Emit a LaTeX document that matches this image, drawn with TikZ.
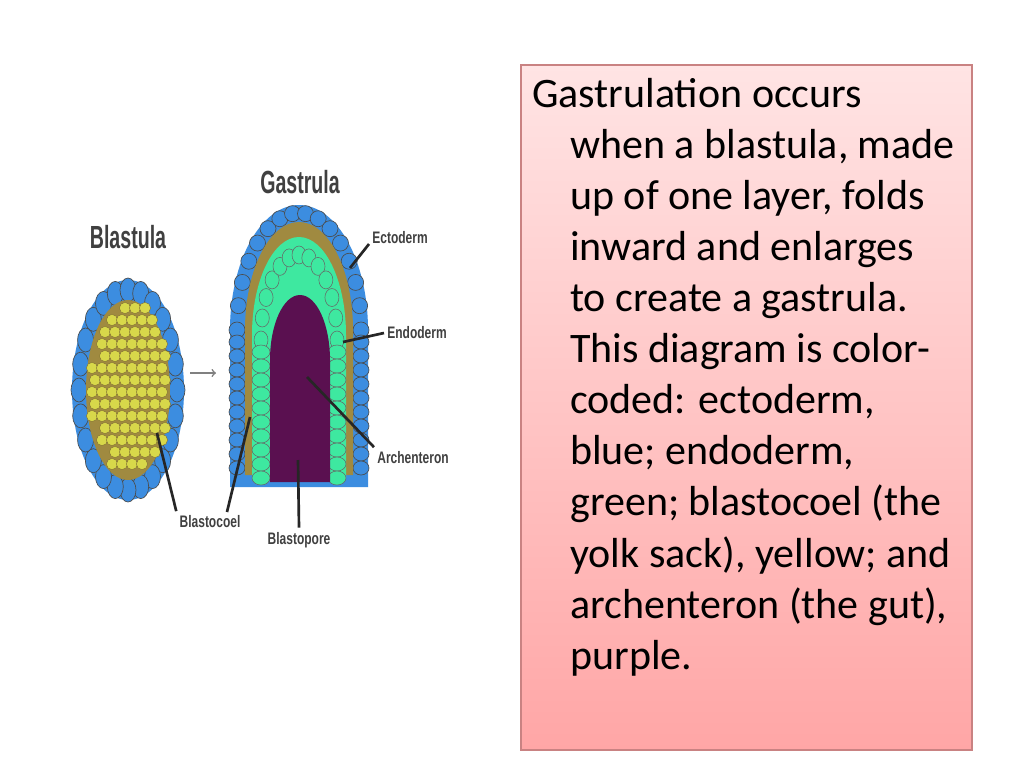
\documentclass[tikz,border=0pt]{standalone}
\usepackage{fontspec}
\setmainfont{Carlito}
\newfontfamily\labelfont{Liberation Sans}
\definecolor{boxtop}{HTML}{FFE4E4}
\definecolor{boxbot}{HTML}{FFA6A6}
\definecolor{ectoblue}{HTML}{3C8DE0}
\definecolor{endogreen}{HTML}{3EE8A0}
\definecolor{yolk}{HTML}{D8D84A}
\definecolor{coelbrown}{HTML}{A08A40}
\definecolor{gut}{HTML}{5A1050}
\tikzset{
  cellblue/.style={fill=ectoblue,draw=black!70,line width=0.5pt},
  cellgreen/.style={fill=endogreen,draw=black!60,line width=0.4pt},
  cellyolk/.style={fill=yolk,draw=coelbrown!80!black,line width=0.3pt},
  pointer/.style={line width=2pt,black!85},
  tag/.style={font=\labelfont\bfseries\fontsize{12.5}{14}\selectfont,xscale=0.72,text=black!75}
}
\begin{document}
\begin{tikzpicture}[x=0.75pt,y=-0.75pt]
  \useasboundingbox (0,0) rectangle (1024,768);
  \fill[white] (0,0) rectangle (1024,768);

  % text box
  \shade[top color=boxtop,bottom color=boxbot] (521,65) rectangle (972,750);
  \draw[red!40!gray!70,line width=0.8pt] (521,65) rectangle (972,750);
  \node[anchor=north west,align=left,font=\fontsize{31.5}{38.3}\selectfont,inner sep=0pt] (txt) at (532,78)
    {Gastrulation occurs\\
     \hspace*{28.5pt}when a blastula, made\\
     \hspace*{28.5pt}up of one layer, folds\\
     \hspace*{28.5pt}inward and enlarges\\
     \hspace*{28.5pt}to create a gastrula.\\
     \hspace*{28.5pt}This diagram is color-\\
     \hspace*{28.5pt}coded: ectoderm,\\
     \hspace*{28.5pt}blue; endoderm,\\
     \hspace*{28.5pt}green; blastocoel (the\\
     \hspace*{28.5pt}yolk sack), yellow; and\\
     \hspace*{28.5pt}archenteron (the gut),\\
     \hspace*{28.5pt}purple.};

  % blastula
  \fill[ectoblue] (128,390) ellipse[x radius=56,y radius=110];
  \foreach \a in {0,15,...,345}
    \draw[cellblue] ({128+49*cos(\a)},{390+100*sin(\a)}) ellipse[x radius=8,y radius=12];
  \fill[coelbrown] (128,390) ellipse[x radius=42,y radius=90];
  \foreach \y in {308,320,...,472}
    \foreach \x in {90,100,...,166} {
      \pgfmathparse{((\x-128)/40)^2+((\y-390)/86)^2<1 ? 1 : 0}
      \ifnum\pgfmathresult=1 \draw[cellyolk] ({\x+mod(\y,24)/4},\y) circle[radius=5.6];\fi
    }

  % arrow
  \draw[->,gray,line width=1.2pt] (190,373) -- (216,373);

  % gastrula
  \fill[ectoblue] (230,330) arc[start angle=180,end angle=360,x radius=69,y radius=125] -- (368,487) -- (230,487) -- cycle;
  \foreach \a in {180,192,...,360}
    \draw[cellblue] ({299+62*cos(\a)},{330+117*sin(\a)}) circle[radius=8];
  \foreach \y in {342,356,...,480} {
    \draw[cellblue] (237,\y) ellipse[x radius=8,y radius=7];
    \draw[cellblue] (361,\y) ellipse[x radius=8,y radius=7];
  }
  \fill[coelbrown] (245,330) arc[start angle=180,end angle=360,x radius=54,y radius=108] -- (353,475) -- (245,475) -- cycle;
  \fill[endogreen] (252,335) arc[start angle=180,end angle=360,x radius=47,y radius=98] -- (346,478) -- (252,478) -- cycle;
  \foreach \a in {180,195,...,360}
    \draw[cellgreen] ({299+38*cos(\a)},{340+85*sin(\a)}) ellipse[x radius=7,y radius=9];
  \foreach \y in {352,366,...,478} {
    \draw[cellgreen] (261,\y) ellipse[x radius=9,y radius=7];
    \draw[cellgreen] (337,\y) ellipse[x radius=9,y radius=7];
  }
  \fill[gut] (270,360) arc[start angle=180,end angle=360,x radius=30,y radius=65] -- (330,482) -- (270,482) -- cycle;

  % titles and labels
  \node[tag,font=\labelfont\bfseries\fontsize{24}{26}\selectfont,xscale=0.85] (blastula) at (128,237) {Blastula};
  \node[tag,font=\labelfont\bfseries\fontsize{24}{26}\selectfont,xscale=0.85] (gastrula) at (300,182) {Gastrula};
  \node[tag,anchor=west] (ecto) at (369,238) {Ectoderm};
  \node[tag,anchor=west] (endo) at (384,333) {Endoderm};
  \node[tag,anchor=west] (arch) at (374,458) {Archenteron};
  \node[tag] (coel) at (210,522) {Blastocoel};
  \node[tag] (pore) at (299,540) {Blastopore};

  \coordinate (ectoEnd) at (350,268);
  \coordinate (endoEnd) at (343,342);
  \coordinate (archEnd) at (307,377);
  \coordinate (poreEnd) at (298,460);
  \coordinate (coelA) at (157,433);
  \coordinate (coelB) at (250,417);
  \draw[pointer] (369,244) -- (ectoEnd);
  \draw[pointer] (endo.west) -- (endoEnd);
  \draw[pointer] (arch.north west) -- (archEnd);
  \draw[pointer] (pore.north) -- (poreEnd);
  \draw[pointer] (coel.north west) -- (coelA);
  \draw[pointer] (227,512) -- (coelB);
\end{tikzpicture}
\end{document}
